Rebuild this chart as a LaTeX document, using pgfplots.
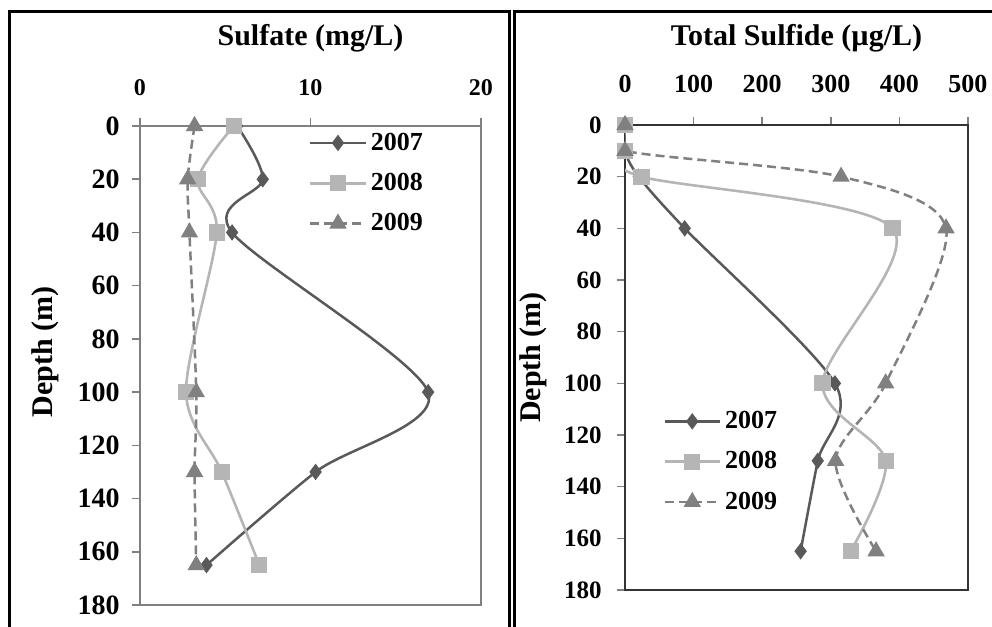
\documentclass[border=0pt]{standalone}
\usepackage{pgfplots}
\pgfplotsset{compat=1.18}
\usepackage{pgfplotstable}
\usepackage{fontspec}
\setmainfont{Liberation Serif}

\definecolor{c07}{HTML}{595959}
\definecolor{c08}{HTML}{B5B5B5}
\definecolor{c09}{HTML}{808080}

% Sulfate (mg/L) by depth (m)
\pgfplotstableread{
depth s07  s08 s09
0     5.7  5.5 3.2
20    7.2  3.4 2.8
40    5.4  4.5 2.9
100   16.9 2.7 3.3
130   10.3 4.8 3.2
165   3.9  7.0 3.3
}\sulfate

% Total sulfide (ug/L) by depth (m)
\pgfplotstableread{
depth s07 s08 s09
0     0   0   0
10    0   0   0
20    20  24  315
40    87  390 468
100   306 288 380
130   281 380 307
165   256 329 366
}\sulfide

\newcommand\fs[1]{\fontsize{#1}{#1}\selectfont\bfseries}

% depth grows downward: plotted as negative values, labelled as positive
\pgfplotsset{
  profile/.style={
    scale only axis,
    ymin=-180, ymax=0,
    ytick={-180,-160,...,0},
    yticklabels={180,160,140,120,100,80,60,40,20,0},
    xtick pos=top, ytick pos=left,
    tick align=outside, major tick length=4pt,
    /pgf/number format/assume math mode=true,
    legend cell align=left,
    legend image code/.code={%
      \draw[mark repeat=2,mark phase=2,##1]
        plot coordinates {(0pt,0pt) (13.75pt,0pt) (27.5pt,0pt)};},
    xticklabel style={inner sep=0pt, anchor=south},
    yticklabel style={inner sep=0pt, anchor=east},
    ylabel style={anchor=center, font=\fs{15pt}},
    title style={font=\fs{15pt}, at={(0.5,1)}, anchor=base},
  },
  y07/.style={color=c07, line width=1.25pt, smooth, mark=diamond*, mark size=3.1pt, mark options={solid}},
  y08/.style={color=c08, line width=1.3pt, smooth, mark=square*, mark size=3.4pt, mark options={solid}},
  y09/.style={color=c09, line width=1.25pt, smooth, dash pattern=on 4.5pt off 2.5pt, mark=triangle*, mark size=3.8pt, mark options={solid}},
}

\begin{document}
\begin{tikzpicture}
\useasboundingbox (0pt,0pt) rectangle (496pt,-313.5pt);

% panel frames
\draw[line width=1.5pt] (4.75pt,-330pt) -- (4.75pt,-5.5pt) -- (254.5pt,-5.5pt) -- (254.5pt,-330pt);
\draw[line width=1.5pt] (257.25pt,-330pt) -- (257.25pt,-5.5pt) -- (520pt,-5.5pt);

% Sulfate
\begin{axis}[profile,
  at={(70pt,-302.5pt)}, anchor=south west,
  width=170.5pt, height=239.5pt,
  xmin=0, xmax=20, xtick={0,10,20},
  axis line style={draw=c09, line width=1pt},
  major tick style={draw=c09, line width=0.8pt},
  xticklabel style={font=\fs{12pt}, yshift=11pt},
  yticklabel style={font=\fs{14pt}, xshift=-6pt},
  title={Sulfate (mg/L)}, title style={yshift=34.5pt},
  ylabel={Depth (m)},
  ylabel style={at={(axis description cs:-0.279,0.528)}},
  legend style={draw=none, fill=none, at={(axis description cs:0.495,0.995)},
    anchor=north west, font=\fs{13pt}, row sep=6pt, inner sep=0pt},
]
\addplot[y07] table[x=s07, y expr=-\thisrow{depth}] {\sulfate};
\addplot[y08] table[x=s08, y expr=-\thisrow{depth}] {\sulfate};
\addplot[y09] table[x=s09, y expr=-\thisrow{depth}] {\sulfate};
\legend{2007,2008,2009}
\end{axis}

% Total sulfide
\begin{axis}[profile,
  at={(312.5pt,-295pt)}, anchor=south west,
  width=171.5pt, height=232.5pt,
  xmin=0, xmax=500, xtick={0,100,...,500},
  axis line style={draw=black!80, line width=1.25pt},
  major tick style={draw=c09, line width=0.8pt},
  xticklabel style={font=\fs{13pt}, yshift=12pt},
  yticklabel style={font=\fs{12.5pt}, xshift=-7.5pt},
  title={Total Sulfide (µg/L)}, title style={yshift=34pt},
  ylabel={Depth (m)},
  ylabel style={at={(axis description cs:-0.268,0.5)}},
  legend style={draw=none, fill=none, at={(axis description cs:0.111,0.394)},
    anchor=north west, font=\fs{13pt}, row sep=6pt, inner sep=0pt},
]
\addplot[y07] table[x=s07, y expr=-\thisrow{depth}] {\sulfide};
\addplot[y08] table[x=s08, y expr=-\thisrow{depth}] {\sulfide};
\addplot[y09] table[x=s09, y expr=-\thisrow{depth}] {\sulfide};
\legend{2007,2008,2009}
\end{axis}
\end{tikzpicture}
\end{document}
